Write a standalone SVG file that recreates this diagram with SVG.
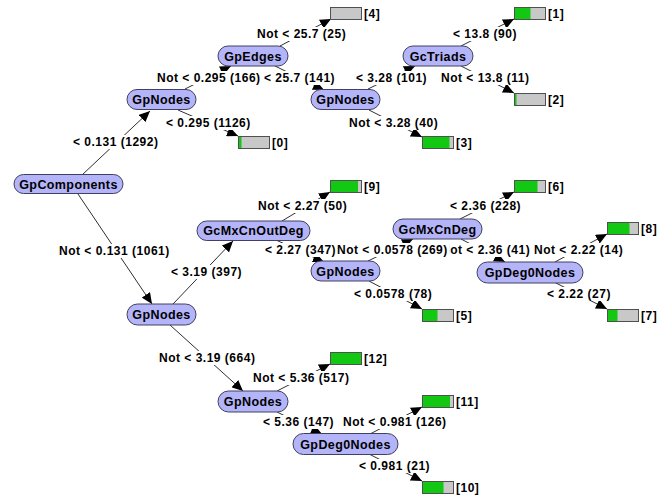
<svg xmlns="http://www.w3.org/2000/svg" width="662" height="498" viewBox="0 0 662 498">
<defs>
<marker id="ah" markerUnits="userSpaceOnUse" markerWidth="12" markerHeight="10" refX="11" refY="5" orient="auto">
<path d="M0,0 L11,5 L0,10 z" fill="#000"/>
</marker>
<style>
.n rect{fill:#b4b4f8;stroke:#404060;stroke-width:1}
.n text{font-family:"Liberation Sans",Arial,sans-serif;font-weight:bold;font-size:12.5px;letter-spacing:0.4px;fill:#000;text-anchor:middle}
.lf .g{fill:#12c812}
.lf .b{fill:#c8c8c8;stroke:#505050;stroke-width:1}
.lf text{font-family:"Liberation Sans",Arial,sans-serif;font-weight:bold;font-size:12px;letter-spacing:0.5px;fill:#000}
#edges line{stroke:#303030;stroke-width:1;marker-end:url(#ah)}
#edges rect{fill:#fff}
#edges text{font-family:"Liberation Sans",Arial,sans-serif;font-weight:bold;font-size:12px;letter-spacing:0.5px;fill:#000}
</style>
</defs>
<rect width="662" height="498" fill="#fff"/>
<g id="edges">
<line x1="82" y1="175" x2="150" y2="111"/>
<line x1="185" y1="89" x2="231" y2="66"/>
<line x1="280" y1="46" x2="331" y2="19"/>
<line x1="275" y1="66" x2="324" y2="90"/>
<line x1="178" y1="110" x2="238" y2="136"/>
<line x1="368" y1="89" x2="415" y2="66"/>
<line x1="369" y1="110" x2="422" y2="137"/>
<line x1="461" y1="46" x2="514" y2="19"/>
<line x1="461" y1="66" x2="514" y2="93"/>
<line x1="78" y1="194" x2="152" y2="304"/>
<line x1="173" y1="304" x2="233" y2="241"/>
<line x1="282" y1="221" x2="330" y2="192"/>
<line x1="276" y1="240" x2="324" y2="262"/>
<line x1="368" y1="261" x2="413" y2="239"/>
<line x1="460" y1="219" x2="514" y2="192"/>
<line x1="461" y1="239" x2="505" y2="262"/>
<line x1="369" y1="281" x2="422" y2="309"/>
<line x1="555" y1="262" x2="607" y2="234"/>
<line x1="554" y1="282" x2="607" y2="309"/>
<line x1="170" y1="325" x2="243" y2="391"/>
<line x1="277" y1="391" x2="330" y2="364"/>
<line x1="277" y1="412" x2="322" y2="434"/>
<line x1="370" y1="434" x2="422" y2="407"/>
<line x1="369" y1="454" x2="422" y2="481"/>

<rect x="71" y="135" width="89" height="14"/><text x="73" y="146">&lt; 0.131 (1292)</text>
<rect x="155" y="71" width="105" height="14"/><text x="157" y="82">Not &lt; 0.295 (166)</text>
<rect x="262" y="71" width="70" height="14"/><text x="264" y="82">&lt; 25.7 (141)</text>
<rect x="255" y="27" width="92" height="14"/><text x="257" y="38">Not &lt; 25.7 (25)</text>
<rect x="164" y="116" width="90" height="14"/><text x="166" y="127">&lt; 0.295 (1126)</text>
<rect x="354" y="71" width="75" height="14"/><text x="356" y="82">&lt; 3.28 (101)</text>
<rect x="347" y="116" width="93" height="14"/><text x="349" y="127">Not &lt; 3.28 (40)</text>
<rect x="451" y="27" width="68" height="14"/><text x="453" y="38">&lt; 13.8 (90)</text>
<rect x="439" y="71" width="93" height="14"/><text x="441" y="82">Not &lt; 13.8 (11)</text>
<rect x="57" y="244" width="116" height="14"/><text x="59" y="255">Not &lt; 0.131 (1061)</text>
<rect x="169" y="265" width="75" height="14"/><text x="171" y="276">&lt; 3.19 (397)</text>
<rect x="256" y="199" width="93" height="14"/><text x="258" y="210">Not &lt; 2.27 (50)</text>
<rect x="263" y="243" width="74" height="14"/><text x="265" y="254">&lt; 2.27 (347)</text>
<rect x="441" y="243" width="88" height="14"/><text x="441" y="254">Not &lt; 2.36 (41)</text>
<rect x="336" y="243" width="113.5" height="14"/><text x="337" y="254">Not &lt; 0.0578 (269)</text>
<rect x="448" y="199" width="76" height="14"/><text x="450" y="210">&lt; 2.36 (228)</text>
<rect x="352" y="287" width="83" height="14"/><text x="354" y="298">&lt; 0.0578 (78)</text>
<rect x="532" y="243" width="93" height="14"/><text x="534" y="254">Not &lt; 2.22 (14)</text>
<rect x="545" y="287" width="67" height="14"/><text x="547" y="298">&lt; 2.22 (27)</text>
<rect x="157" y="351" width="101" height="14"/><text x="159" y="362">Not &lt; 3.19 (664)</text>
<rect x="251" y="371" width="101" height="14"/><text x="253" y="382">Not &lt; 5.36 (517)</text>
<rect x="261" y="415" width="75" height="14"/><text x="263" y="426">&lt; 5.36 (147)</text>
<rect x="341" y="415" width="107" height="14"/><text x="343" y="426">Not &lt; 0.981 (126)</text>
<rect x="357" y="459" width="75" height="14"/><text x="359" y="470">&lt; 0.981 (21)</text>
</g>

<g id="n_GpComponents" class="n"><rect x="14" y="174.5" width="109" height="19" rx="9.5"/><text x="68.5" y="188.5">GpComponents</text></g>
<g id="n_GpNodes_1" class="n"><rect x="127" y="89.5" width="69" height="20" rx="10"/><text x="161.5" y="104">GpNodes</text></g>
<g id="n_GpEdges" class="n"><rect x="218" y="46" width="70" height="20" rx="10"/><text x="253" y="60.5">GpEdges</text></g>
<g id="n_GpNodes_2" class="n"><rect x="311" y="89.5" width="69" height="20" rx="10"/><text x="345.5" y="104">GpNodes</text></g>
<g id="n_GcTriads" class="n"><rect x="403" y="46" width="70" height="20" rx="10"/><text x="438" y="60.5">GcTriads</text></g>
<g id="n_GcMxCnOutDeg" class="n"><rect x="197" y="221" width="113" height="19.5" rx="9.75"/><text x="253.5" y="235">GcMxCnOutDeg</text></g>
<g id="n_GpNodes_3" class="n"><rect x="311" y="261" width="69" height="20" rx="10"/><text x="345.5" y="275.5">GpNodes</text></g>
<g id="n_GcMxCnDeg" class="n"><rect x="393" y="219" width="89" height="20" rx="10"/><text x="437.5" y="233.5">GcMxCnDeg</text></g>
<g id="n_GpDeg0Nodes_1" class="n"><rect x="477" y="262" width="106" height="21" rx="10.5"/><text x="530" y="277">GpDeg0Nodes</text></g>
<g id="n_GpNodes_4" class="n"><rect x="127" y="304" width="69" height="21" rx="10.5"/><text x="161.5" y="319">GpNodes</text></g>
<g id="n_GpNodes_5" class="n"><rect x="218" y="391" width="70" height="21" rx="10.5"/><text x="253" y="406">GpNodes</text></g>
<g id="n_GpDeg0Nodes_2" class="n"><rect x="293" y="433.5" width="105" height="21" rx="10.5"/><text x="345.5" y="448.5">GpDeg0Nodes</text></g>

<g id="leaf_4" class="lf"><rect class="b" x="330.5" y="7.5" width="31" height="12"/><text x="364" y="18">[4]</text></g>
<g id="leaf_1" class="lf"><rect class="b" x="514.5" y="7.5" width="31" height="12"/><rect class="g" x="515" y="8" width="15.5" height="11"/><text x="548" y="18">[1]</text></g>
<g id="leaf_0" class="lf"><rect class="b" x="238.5" y="136.5" width="31" height="12"/><rect class="g" x="239" y="137" width="2.5" height="11"/><text x="272" y="147">[0]</text></g>
<g id="leaf_2" class="lf"><rect class="b" x="514.5" y="93.5" width="31" height="12"/><rect class="g" x="515" y="94" width="1.5" height="11"/><text x="548" y="104">[2]</text></g>
<g id="leaf_3" class="lf"><rect class="b" x="422.5" y="136.5" width="31" height="12"/><rect class="g" x="423" y="137" width="26.5" height="11"/><text x="456" y="147">[3]</text></g>
<g id="leaf_9" class="lf"><rect class="b" x="330.5" y="180.5" width="31" height="12"/><rect class="g" x="331" y="181" width="27" height="11"/><text x="364" y="191">[9]</text></g>
<g id="leaf_6" class="lf"><rect class="b" x="514.5" y="180.5" width="31" height="12"/><rect class="g" x="515" y="181" width="22.5" height="11"/><text x="548" y="191">[6]</text></g>
<g id="leaf_8" class="lf"><rect class="b" x="607.5" y="222.5" width="31" height="12"/><rect class="g" x="608" y="223" width="21.5" height="11"/><text x="641" y="233">[8]</text></g>
<g id="leaf_5" class="lf"><rect class="b" x="422.5" y="309.5" width="31" height="12"/><rect class="g" x="423" y="310" width="14.5" height="11"/><text x="456" y="320">[5]</text></g>
<g id="leaf_7" class="lf"><rect class="b" x="607.5" y="309.5" width="31" height="12"/><rect class="g" x="608" y="310" width="9.5" height="11"/><text x="641" y="320">[7]</text></g>
<g id="leaf_12" class="lf"><rect class="b" x="330.5" y="352.5" width="31" height="12"/><rect class="g" x="331" y="353" width="30" height="11"/><text x="364" y="363">[12]</text></g>
<g id="leaf_11" class="lf"><rect class="b" x="422.5" y="395.5" width="31" height="12"/><rect class="g" x="423" y="396" width="27" height="11"/><text x="456" y="406">[11]</text></g>
<g id="leaf_10" class="lf"><rect class="b" x="422.5" y="481.5" width="31" height="12"/><rect class="g" x="423" y="482" width="20.5" height="11"/><text x="456" y="492">[10]</text></g>
</svg>
